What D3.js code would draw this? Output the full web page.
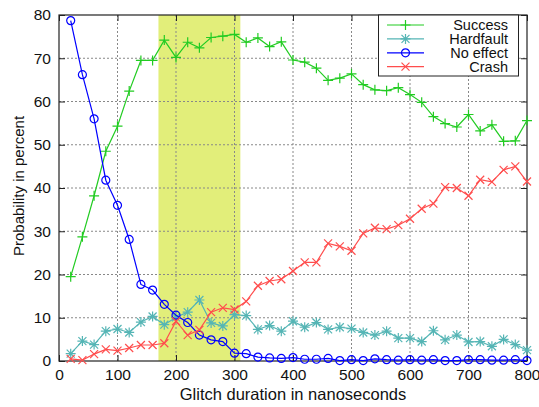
<!DOCTYPE html>
<html><head><meta charset="utf-8">
<script src="https://cdn.jsdelivr.net/npm/d3@7"></script>
<style>body{margin:0;background:#fff}svg text{font-family:"Liberation Sans",Arial,sans-serif}</style>
</head><body><svg id="c" width="539" height="407"></svg>
<script>
const durations = d3.range(20, 801, 20);
const success = [19.5,28.7,38.2,48.5,54.3,62.4,69.5,69.5,74.2,70.2,73.7,72.4,74.8,75.1,75.5,73.7,74.7,72.7,73.8,69.6,69.1,67.7,64.9,65.4,66.4,63.9,62.7,62.5,63.2,61.6,59.8,56.5,54.9,54.1,57.0,53.2,54.6,50.8,50.9,55.6];
const hardfault = [1.7,4.6,3.8,6.9,7.4,6.6,9.0,10.3,8.4,10.1,11.3,14.1,8.8,8.1,10.7,10.5,7.3,8.2,6.9,9.2,7.8,8.9,7.3,7.8,7.5,6.6,6.0,6.9,5.3,5.3,4.5,7.0,4.9,6.0,4.4,4.5,3.4,5.0,3.8,2.5];
const noEffect = [78.7,66.2,56.0,41.8,36.0,28.1,17.7,16.4,13.1,10.6,8.9,6.0,4.9,4.5,1.8,1.7,0.9,0.7,0.6,0.8,0.4,0.4,0.6,0.1,0.3,0.1,0.5,0.3,0.2,0.3,0.2,0.3,0.1,0.1,0.3,0.3,0.2,0.2,0.3,0.1];
const crash = [0.5,0.2,1.6,2.7,2.4,3.0,3.7,3.7,4.1,9.2,6.0,7.2,11.3,12.3,11.9,13.8,17.4,18.5,18.9,20.8,22.8,22.8,27.2,26.5,25.5,29.5,30.8,30.5,31.4,32.9,35.2,36.4,40.2,40.0,38.2,41.9,41.4,44.2,45.0,41.5];
const seriesNames = ["Success","Hardfault","No effect","Crash"];
const seriesColors = ["#22cc22","#55b5b5","#0000ff","#ff4d4d"];
const seriesMarkers = ["plus","star","circle","cross"];
const xTicks = [0,100,200,300,400,500,600,700,800];
const yTicks = [0,10,20,30,40,50,60,70,80];
const band = [170, 310];

const svg = d3.select("#c");
const L=59, R=527, T=15, B=361;
const x = d3.scaleLinear().domain([0,800]).range([L,R]);
const y = d3.scaleLinear().domain([0,80]).range([B,T]);

svg.append("rect").attr("x",x(band[0])).attr("y",T).attr("width",x(band[1])-x(band[0])).attr("height",B-T).attr("fill","#e2ee7a");

// grid
const g = svg.append("g");
g.selectAll(".gx").data(xTicks.slice(1,-1)).join("line").attr("x1",d=>x(d)).attr("x2",d=>x(d)).attr("y1",T).attr("y2",B)
 .attr("stroke","#888").attr("stroke-width",1).attr("stroke-dasharray","2,2");
g.selectAll(".gy").data(yTicks.slice(1,-1)).join("line").attr("y1",d=>y(d)).attr("y2",d=>y(d)).attr("x1",L).attr("x2",R)
 .attr("stroke","#888").attr("stroke-width",1).attr("stroke-dasharray","2,2");

// axes
const xa = svg.append("g").attr("transform",`translate(0,${B})`).call(d3.axisBottom(x).tickValues(xTicks).tickSize(-6).tickPadding(8));
const xt = svg.append("g").attr("transform",`translate(0,${T})`).call(d3.axisTop(x).tickValues(xTicks).tickSize(-6).tickFormat(""));
const ya = svg.append("g").attr("transform",`translate(${L},0)`).call(d3.axisLeft(y).tickValues(yTicks).tickSize(-6).tickPadding(8));
const yr = svg.append("g").attr("transform",`translate(${R},0)`).call(d3.axisRight(y).tickValues(yTicks).tickSize(-6).tickFormat(""));
[xa,xt,ya,yr].forEach(a=>{a.select(".domain").remove();a.selectAll("line").attr("stroke","#222");a.selectAll("text").attr("font-size",15.5).attr("fill","#111").style("font-family","Liberation Sans, Arial, sans-serif");});
svg.append("rect").attr("x",L).attr("y",T).attr("width",R-L).attr("height",B-T).attr("fill","none").attr("stroke","#222").attr("stroke-width",1.2);

function marker(sel, type, color){
  const s=5, c=4;
  if(type==="plus"){ sel.append("path").attr("d",`M${-s},0H${s}M0,${-s}V${s}`); }
  else if(type==="star"){ sel.append("path").attr("d",`M${-s},0H${s}M0,${-s}V${s}M${-c},${-c}L${c},${c}M${-c},${c}L${c},${-c}`); }
  else if(type==="circle"){ sel.append("circle").attr("r",4).attr("fill","none"); }
  else { sel.append("path").attr("d",`M${-c},${-c}L${c},${c}M${-c},${c}L${c},${-c}`); }
  sel.selectAll("path,circle").attr("stroke",color).attr("stroke-width",1.2).attr("fill","none");
}

const allData=[success,hardfault,noEffect,crash];
const line = d3.line().x((d,i)=>x(durations[i])).y(d=>y(d));
allData.forEach((vals,k)=>{
  const gs = svg.append("g");
  gs.append("path").datum(vals).attr("d",line).attr("fill","none").attr("stroke",seriesColors[k]).attr("stroke-width",1.2);
  gs.selectAll("g.m").data(vals).join("g").attr("transform",(d,i)=>`translate(${x(durations[i])},${y(d)})`).each(function(){marker(d3.select(this),seriesMarkers[k],seriesColors[k]);});
});

// legend
const lg = svg.append("g");
lg.append("rect").attr("x",378.5).attr("y",15).attr("width",140).attr("height",61).attr("fill","#fff").attr("stroke","#222").attr("stroke-width",1);
seriesNames.forEach((n,k)=>{
  const yy = 25 + k*13.9;
  lg.append("line").attr("x1",387).attr("x2",424).attr("y1",yy).attr("y2",yy).attr("stroke",seriesColors[k]).attr("stroke-width",1.2);
  const m = lg.append("g").attr("transform",`translate(405.5,${yy})`); marker(m,seriesMarkers[k],seriesColors[k]);
  lg.append("text").attr("x",508).attr("y",yy).attr("dy","0.35em").attr("text-anchor","end").attr("font-size",14.5).attr("fill","#111").text(n);
});

svg.append("text").attr("x",(L+R)/2).attr("y",400).attr("text-anchor","middle").attr("font-size",16.5).attr("fill","#111").text("Glitch duration in nanoseconds");
svg.append("text").attr("transform",`translate(24,${(T+B)/2-2}) rotate(-90)`).attr("text-anchor","middle").attr("font-size",15).attr("fill","#111").text("Probability in percent");
</script></body></html>
